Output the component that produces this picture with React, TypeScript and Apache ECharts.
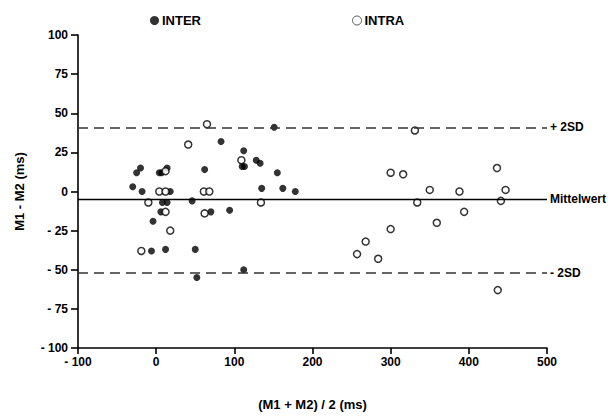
import React, { useEffect, useRef } from "react";
import * as echarts from "echarts";

const interPoints: number[][] = [
  [-30, 3], [-25, 12], [-20, 15], [-18, 0], [4, 12], [7, 12], [14, 15], [18, 0],
  [62, 14], [8, -7], [14, -7], [6, -13], [-4, -19], [-6, -38], [12, -37], [46, -6],
  [50, -37], [52, -55], [70, -13], [151, 41], [83, 32], [112, 26], [128, 20], [133, 18],
  [110, 16], [113, 16], [155, 12], [135, 2], [162, 2], [178, 0], [94, -12], [112, -50],
];

const intraPoints: number[][] = [
  [65, 43], [41, 30], [12, 13], [4, 0], [12, 0], [61, 0], [68, 0], [-10, -7],
  [12, -13], [18, -25], [-19, -38], [62, -14], [109, 20], [134, -7], [300, 12], [316, 11],
  [334, -7], [300, -24], [268, -32], [257, -40], [284, -43], [331, 39], [350, 1], [359, -20],
  [388, 0], [394, -13], [436, 15], [447, 1], [441, -6], [437, -63],
];

const refLines = [
  { name: "+ 2SD", value: 41, dashed: true },
  { name: "Mittelwert", value: -5, dashed: false },
  { name: "- 2SD", value: -52, dashed: true },
];

const FONT = "'Liberation Sans', Arial, sans-serif";

const fmt = (v: number) => (v < 0 ? "- " + Math.abs(v) : String(v));

export default function App() {
  const ref = useRef<HTMLDivElement>(null);
  useEffect(() => {
    if (!ref.current) return;
    const chart = echarts.init(ref.current, null, { renderer: "svg" });
    const labelStyle = { color: "#000", fontWeight: "bold" as const, fontSize: 12, fontFamily: FONT };
    chart.setOption({
      animation: false,
      backgroundColor: "#fff",
      grid: { left: 78, right: 66, top: 35, bottom: 69 },
      legend: [
        {
          data: [{ name: "INTER", itemStyle: { color: "#000" } }],
          left: 145, top: 9, itemWidth: 9, itemHeight: 9, itemGap: 4,
          textStyle: { ...labelStyle, fontSize: 13, padding: [0, 0, 0, -2] },
        },
        {
          data: [{ name: "INTRA", itemStyle: { color: "#fff", borderColor: "#333", borderWidth: 1 } }],
          left: 347, top: 9, itemWidth: 9, itemHeight: 9, itemGap: 4,
          textStyle: { ...labelStyle, fontSize: 13, padding: [0, 0, 0, -2] },
        },
      ],
      xAxis: {
        type: "value", min: -100, max: 500, interval: 100,
        name: "(M1 + M2) / 2 (ms)", nameLocation: "middle", nameGap: 50,
        nameTextStyle: { ...labelStyle, fontSize: 13 },
        axisLine: { onZero: false, lineStyle: { color: "#000", width: 1.6 } },
        axisTick: { inside: false, length: 6, lineStyle: { color: "#000", width: 1.6 } },
        axisLabel: { ...labelStyle, margin: 8, formatter: fmt },
        splitLine: { show: false },
      },
      yAxis: {
        type: "value", min: -100, max: 100, interval: 25,
        name: "M1 - M2 (ms)", nameLocation: "middle", nameGap: 52, nameRotate: 90,
        nameTextStyle: { ...labelStyle, fontSize: 13 },
        axisLine: { onZero: false, lineStyle: { color: "#000", width: 1.6 } },
        axisTick: { inside: false, length: 7, lineStyle: { color: "#000", width: 1.6 } },
        axisLabel: { ...labelStyle, margin: 10, formatter: fmt },
        splitLine: { show: false },
      },
      series: [
        {
          name: "INTER", type: "scatter", data: interPoints, symbol: "circle", symbolSize: 7,
          itemStyle: { color: "#000" }, z: 3,
          markLine: {
            silent: true, symbol: "none",
            data: refLines.map((l) => ({
              yAxis: l.value,
              name: l.name,
              lineStyle: l.dashed
                ? { type: [10, 6], color: "#333", width: 1.6 }
                : { type: "solid", color: "#000", width: 1.4 },
            })),
            label: { show: true, position: "end", distance: 3, formatter: "{b}", ...labelStyle },
          },
        },
        {
          name: "INTRA", type: "scatter", data: intraPoints, symbol: "circle", symbolSize: 7,
          itemStyle: { color: "#fff", borderColor: "#000", borderWidth: 1.5 }, z: 4,
        },
      ],
    });
    return () => chart.dispose();
  }, []);
  return (
    <div
      ref={ref}
      style={{ position: "absolute", left: 0, top: 0, width: 613, height: 417 }}
    />
  );
}
